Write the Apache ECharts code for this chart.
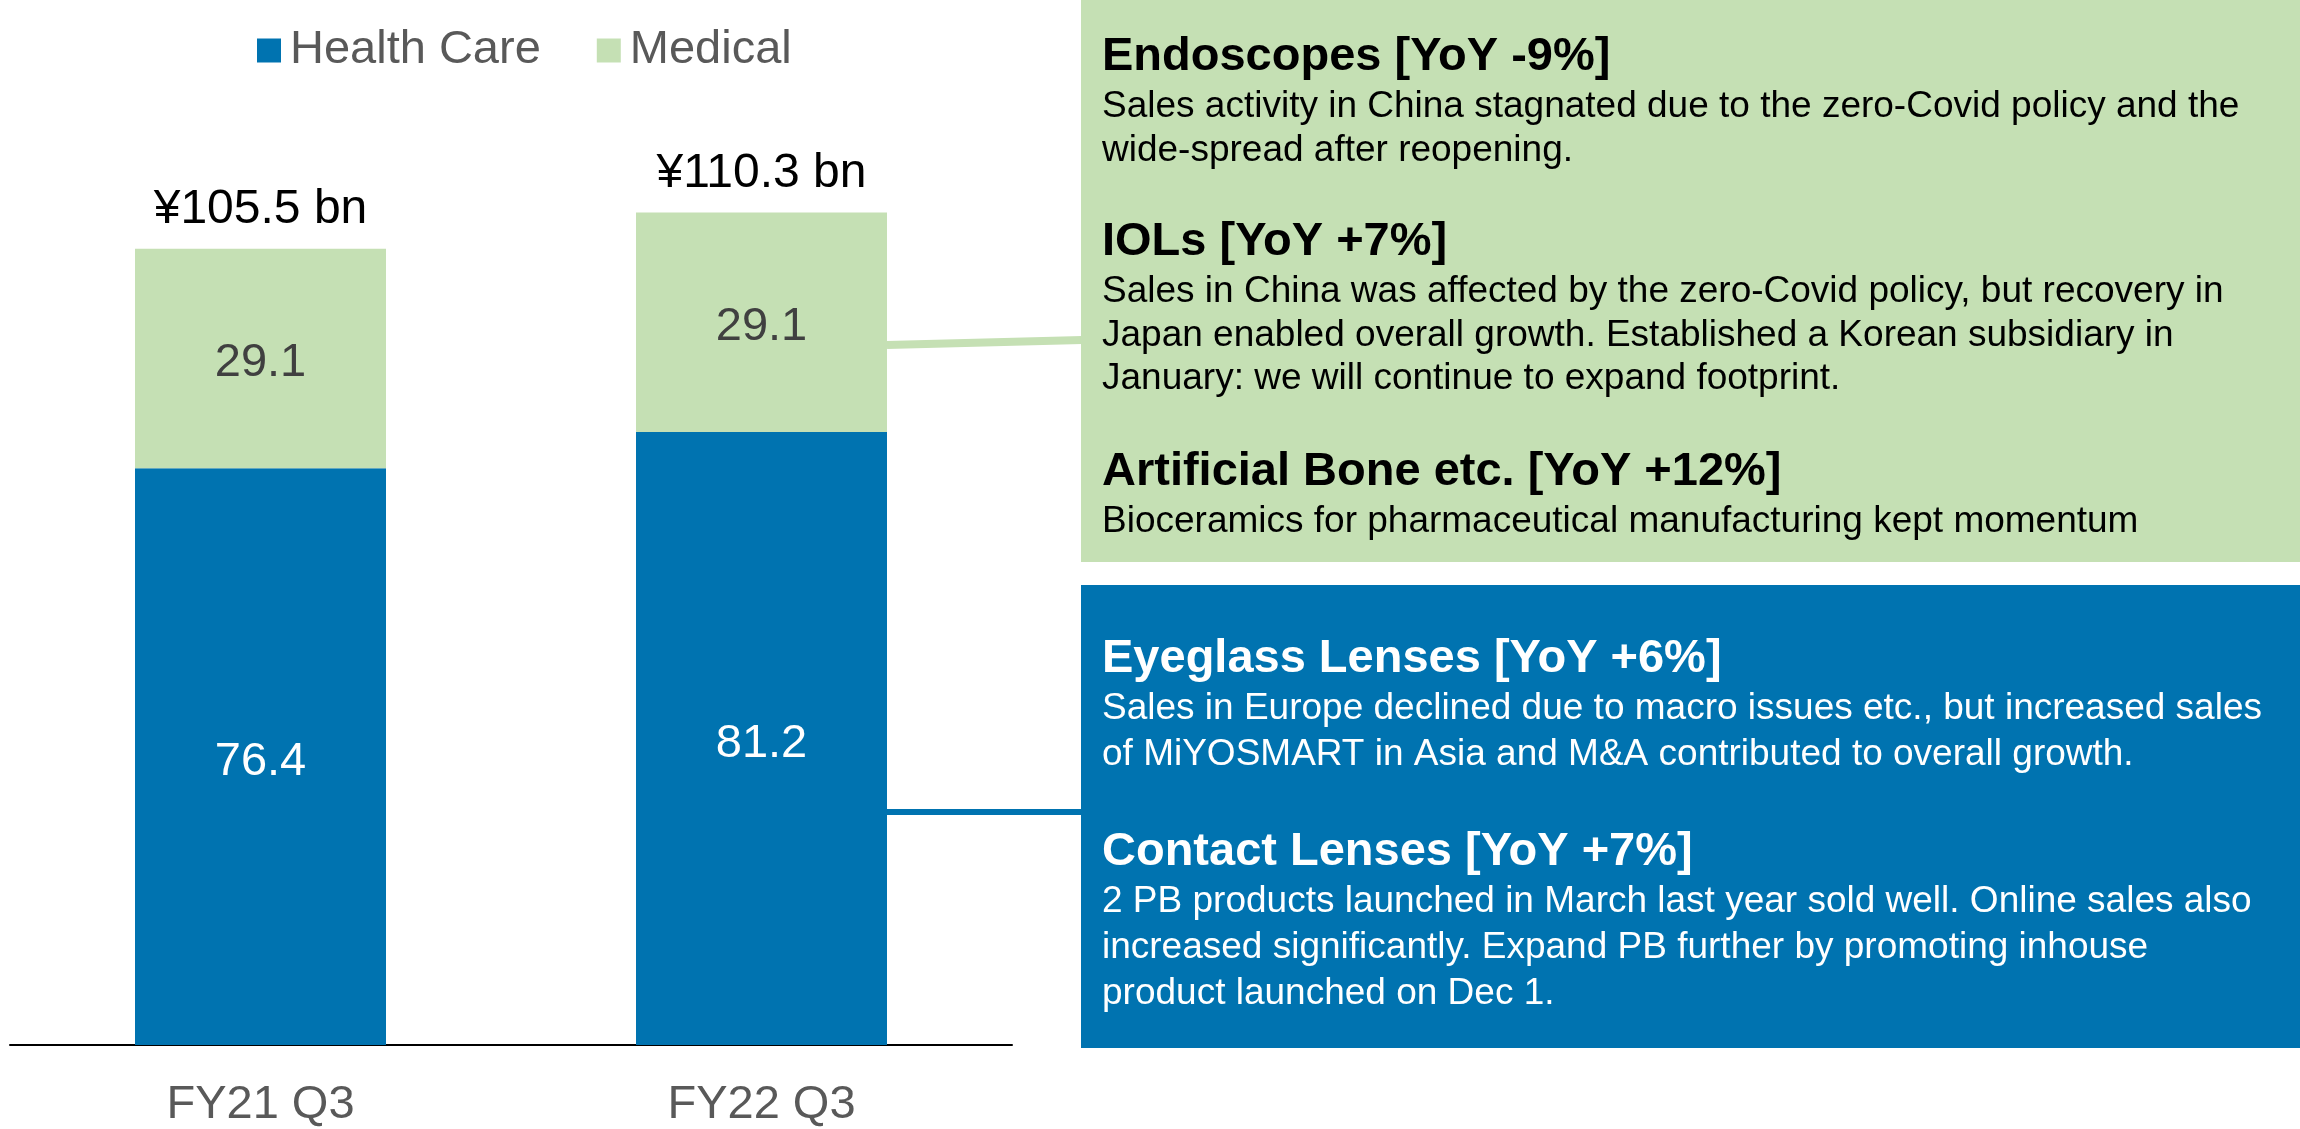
<!DOCTYPE html>
<html>
<head>
    <meta charset="utf-8">
    <title>Health Care / Medical</title>
    <script src="https://cdn.jsdelivr.net/npm/echarts@6/dist/echarts.min.js"></script>
    <style>
        html, body { margin: 0; padding: 0; background: #fff; }
        #main { width: 2300px; height: 1129px; }
    </style>
</head>
<body>
    <div id="main"></div>
    <script>
        // data (¥ bn)
        var categories = ['FY21 Q3', 'FY22 Q3'];
        var healthCare = [76.4, 81.2];
        var medical = [29.1, 29.1];
        var totals = [105.5, 110.3];

        var greenNotes = [
            { title: 'Endoscopes [YoY -9%]', lines: [
                'Sales activity in China stagnated due to the zero-Covid policy and the',
                'wide-spread after reopening.'] },
            { title: 'IOLs [YoY +7%]', lines: [
                'Sales in China was affected by the zero-Covid policy, but recovery in',
                'Japan enabled overall growth. Established a Korean subsidiary in',
                'January: we will continue to expand footprint.'] },
            { title: 'Artificial Bone etc. [YoY +12%]', lines: [
                'Bioceramics for pharmaceutical manufacturing kept momentum'] }
        ];
        var blueNotes = [
            { title: 'Eyeglass Lenses [YoY +6%]', lines: [
                'Sales in Europe declined due to macro issues etc., but increased sales',
                'of MiYOSMART in Asia and M&A contributed to overall growth.'] },
            { title: 'Contact Lenses [YoY +7%]', lines: [
                '2 PB products launched in March last year sold well. Online sales also',
                'increased significantly. Expand PB further by promoting inhouse',
                'product launched on Dec 1.'] }
        ];

        var BLUE = '#0073B0';
        var GREEN = '#C5E0B4';
        var FONT = "'Liberation Sans', Arial, sans-serif";
        var BAR_W = 251;

        // text blocks: heading baseline positions, then body lines under each
        function noteTexts(notes, headBase, lineGap, color) {
            var els = [];
            notes.forEach(function (n, i) {
                var hb = headBase[i] + 5;
                els.push({
                    type: 'text', x: 1102, y: hb - 0.3465 * 47, silent: true,
                    style: { text: n.title, fontSize: 47, fontWeight: 'bold', fontFamily: FONT,
                        fill: color, verticalAlign: 'middle' }
                });
                n.lines.forEach(function (line, j) {
                    var b = hb + 47 + j * lineGap;
                    els.push({
                        type: 'text', x: 1102, y: b - 0.3465 * 37, silent: true,
                        style: { text: line, fontSize: 37, fontFamily: FONT,
                            fill: color, verticalAlign: 'middle' }
                    });
                });
            });
            return els;
        }

        var chart = echarts.init(document.getElementById('main'));

        var graphics = [
            { type: 'rect', shape: { x: 1081, y: 0, width: 1219, height: 562 }, style: { fill: GREEN }, silent: true },
            { type: 'rect', shape: { x: 1081, y: 585, width: 1219, height: 463 }, style: { fill: BLUE }, silent: true },
            { type: 'line', shape: { x1: 887, y1: 345, x2: 1082, y2: 340 }, style: { stroke: GREEN, lineWidth: 8 }, silent: true },
            { type: 'line', shape: { x1: 887, y1: 812, x2: 1082, y2: 812 }, style: { stroke: BLUE, lineWidth: 6 }, silent: true }
        ].concat(noteTexts(greenNotes, [68, 253, 483], 43.5, '#000'))
         .concat(noteTexts(blueNotes, [670, 863], 46, '#fff'));

        chart.setOption({
            animation: false,
            legend: {
                data: ['Health Care', 'Medical'],
                left: 257,
                top: 27,
                padding: 0,
                icon: 'rect',
                itemWidth: 24,
                itemHeight: 24,
                itemGap: 56,
                selectedMode: false,
                textStyle: { fontSize: 47, color: '#595959', fontFamily: FONT, padding: [0, 0, 0, 4] }
            },
            grid: { left: 10, right: 1288, top: 101.5, bottom: 82, containLabel: false },
            xAxis: {
                type: 'category',
                data: categories,
                axisTick: { show: false },
                axisLine: { lineStyle: { color: '#000', width: 2 } },
                axisLabel: { margin: 37, fontSize: 47, color: '#595959', fontFamily: FONT }
            },
            yAxis: { type: 'value', min: 0, max: 125, show: false, splitLine: { show: false } },
            series: [
                {
                    name: 'Health Care', type: 'bar', stack: 'seg', barWidth: BAR_W,
                    data: healthCare, itemStyle: { color: BLUE }, emphasis: { disabled: true },
                    label: { show: true, position: 'inside', offset: [0, 5], color: '#fff', fontSize: 47, fontFamily: FONT }
                },
                {
                    name: 'Medical', type: 'bar', stack: 'seg', barWidth: BAR_W,
                    data: medical, itemStyle: { color: GREEN }, emphasis: { disabled: true },
                    label: { show: true, position: 'inside', offset: [0, 5], color: '#404040', fontSize: 47, fontFamily: FONT }
                },
                {
                    name: 'Total', type: 'bar', barWidth: BAR_W, barGap: '-100%', silent: true,
                    data: totals, itemStyle: { color: 'rgba(0,0,0,0)' }, emphasis: { disabled: true },
                    label: {
                        show: true, position: 'top', distance: 15, color: '#000', fontSize: 48, fontFamily: FONT,
                        formatter: function (p) { return '¥' + p.value.toFixed(1) + ' bn'; }
                    }
                }
            ],
            graphic: graphics
        });
    </script>
</body>
</html>
